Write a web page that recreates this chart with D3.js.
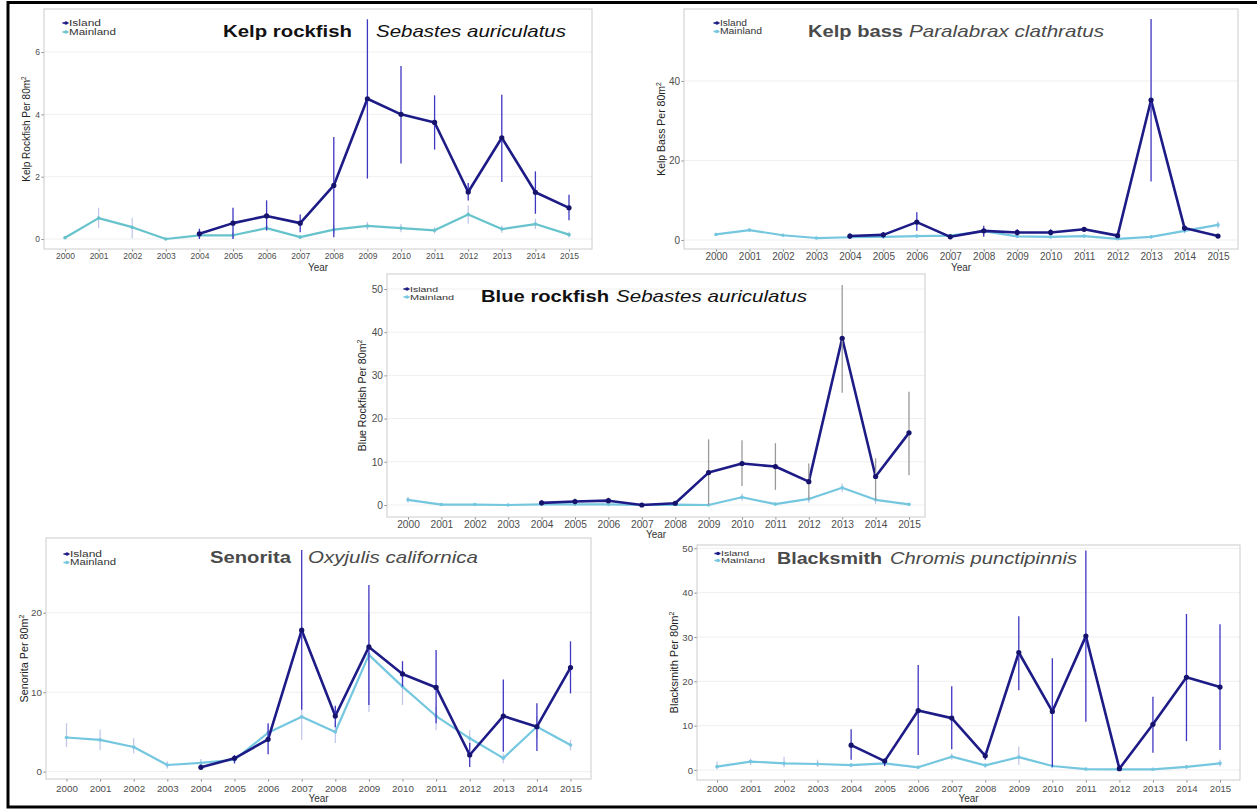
<!DOCTYPE html>
<html>
<head>
<meta charset="utf-8">
<script src="https://cdn.jsdelivr.net/npm/d3@7"></script>
<style>
  body { margin: 0; background: #fff; }
  svg { display: block; font-family: "Liberation Sans", Arial, sans-serif; }
</style>
</head>
<body>
<div id="chart"></div>
<script>
// years on the x axis, island surveys start in 2004
var years = [2000, 2001, 2002, 2003, 2004, 2005, 2006, 2007, 2008, 2009, 2010, 2011, 2012, 2013, 2014, 2015];
var islandYears = [2004, 2005, 2006, 2007, 2008, 2009, 2010, 2011, 2012, 2013, 2014, 2015];

// Kelp rockfish
var kelpRockIsland = [0.17, 0.51, 0.74, 0.51, 1.72, 4.50, 4.00, 3.74, 1.51, 3.25, 1.50, 1.00];
var kelpRockIslandErr = [[0, 0.33], [0, 1.0], [0.28, 1.24], [0.22, 0.79], [0.06, 3.27], [1.94, 7.05], [2.42, 5.55], [2.87, 4.61], [1.24, 1.80], [1.83, 4.63], [0.81, 2.17], [0.60, 1.42]];
var kelpRockMainland = [0.04, 0.67, 0.38, 0.00, 0.12, 0.12, 0.35, 0.06, 0.30, 0.42, 0.35, 0.28, 0.79, 0.32, 0.48, 0.14];
var kelpRockMainlandErr = [[0, 0.08], [0.35, 1.0], [0.02, 0.68], [0, 0.03], [0.02, 0.22], [0.02, 0.22], [0.25, 0.45], [0, 0.12], [0.15, 0.45], [0.3, 0.55], [0.22, 0.48], [0.18, 0.38], [0.49, 1.08], [0.2, 0.44], [0.32, 0.65], [0.05, 0.23]];
var kelpRockTicks = [0, 2, 4, 6];

// Kelp bass
var kelpBassIsland = [1.0, 1.3, 4.5, 0.8, 2.3, 1.9, 1.9, 2.7, 1.1, 35.2, 3.0, 1.0];
var kelpBassIslandErr = [[0.3, 1.7], [0.6, 2.0], [2.3, 7.0], [0.3, 1.3], [0.8, 3.6], [1.1, 2.7], [1.2, 2.7], [2.2, 3.2], [0.7, 1.5], [14.7, 55.6], [2.2, 3.8], [0.5, 1.5]];
var kelpBassMainland = [1.4, 2.5, 1.2, 0.5, 0.7, 0.8, 1.0, 1.1, 2.2, 0.9, 0.8, 1.0, 0.3, 0.8, 2.3, 3.8];
var kelpBassMainlandErr = [[1.0, 1.8], [2.0, 3.0], [0.8, 1.6], [0.2, 0.8], [0.3, 1.1], [0.4, 1.2], [0.6, 1.4], [0.7, 1.5], [1.7, 2.7], [0.5, 1.3], [0.3, 1.3], [0.6, 1.4], [0.1, 0.5], [0.4, 1.2], [1.7, 2.9], [2.9, 4.7]];
var kelpBassTicks = [0, 20, 40];

// Blue rockfish
var blueRockIsland = [0.5, 0.8, 1.0, 0.0, 0.4, 7.5, 9.6, 8.9, 5.4, 38.6, 6.6, 16.7];
var blueRockIslandErr = [[0, 1.2], [0.1, 1.5], [0.3, 1.7], [0, 0.2], [0, 0.9], [0, 15.2], [4.4, 15.0], [3.5, 14.3], [1.2, 9.6], [26.0, 50.9], [1.2, 10.8], [6.9, 26.2]];
var blueRockMainland = [1.2, 0.1, 0.1, 0, 0.15, 0.15, 0.15, 0, 0.1, 0, 1.8, 0.2, 1.4, 4.0, 1.2, 0.15];
var blueRockMainlandErr = [[0.5, 1.9], [0, 0.3], [0, 0.3], [0, 0.1], [0, 0.4], [0, 0.4], [0, 0.4], [0, 0.1], [0, 0.3], [0, 0.1], [1.0, 2.6], [0, 0.5], [0.5, 2.3], [3.0, 5.0], [0.3, 2.1], [0, 0.4]];
var blueRockTicks = [0, 10, 20, 30, 40, 50];

// Senorita
var senoritaIsland = [0.55, 1.68, 4.07, 17.8, 7.0, 15.7, 12.3, 10.6, 2.1, 7.0, 5.66, 13.1];
var senoritaIslandErr = [[0.3, 0.9], [1.05, 2.1], [2.2, 6.1], [7.8, 27.9], [5.6, 8.3], [8.4, 23.5], [10.7, 13.9], [6.1, 15.3], [0.6, 3.6], [2.5, 11.6], [2.6, 8.6], [9.85, 16.4]];
var senoritaMainland = [4.3, 4.0, 3.1, 0.84, 1.1, 1.5, 4.9, 6.9, 5.0, 14.7, 10.7, 7.0, 4.2, 1.7, 5.66, 3.35];
var senoritaMainlandErr = [[3.1, 6.1], [2.7, 5.3], [2.3, 4.2], [0.4, 1.3], [0.6, 1.6], [1.0, 2.0], [4.0, 5.8], [4.0, 10.0], [3.6, 6.2], [7.5, 19.9], [8.4, 12.4], [5.2, 8.2], [3.1, 5.2], [1.05, 2.3], [4.2, 7.0], [2.7, 4.0]];
var senoritaTicks = [0, 10, 20];

// Blacksmith
var blacksmithIsland = [5.6, 2.0, 13.4, 11.7, 3.2, 26.5, 13.2, 30.2, 0.3, 10.3, 20.9, 18.7];
var blacksmithIslandErr = [[2.3, 9.2], [0.9, 2.6], [3.4, 23.7], [4.7, 18.9], [2.3, 4.1], [18.0, 34.7], [0.75, 25.2], [10.9, 49.5], [0, 0.6], [3.9, 16.5], [6.5, 35.2], [4.5, 32.9]];
var blacksmithMainland = [0.75, 1.9, 1.5, 1.35, 1.1, 1.5, 0.6, 3.0, 1.05, 2.9, 0.9, 0.2, 0.15, 0.15, 0.7, 1.5];
var blacksmithMainlandErr = [[0.15, 1.9], [1.1, 2.6], [0.6, 3.0], [0.75, 2.3], [0.6, 1.6], [0.8, 2.2], [0.2, 1.0], [2.3, 3.8], [0.5, 1.6], [1.1, 5.3], [0.4, 1.4], [0, 0.4], [0, 0.3], [0, 0.3], [0.3, 1.1], [0.75, 2.3]];
var blacksmithTicks = [0, 10, 20, 30, 40, 50];

var cIsland = "#1d1b86", cIslandErr = "#3f36c2", cMainland = "#74c7df", cMainlandErr = "#b9bfe8";

var panels = [
    { name: "Kelp rockfish", sci: "Sebastes auriculatus", yTitle: "Kelp Rockfish Per 80m",
      island: kelpRockIsland, islandErr: kelpRockIslandErr, main: kelpRockMainland, mainErr: kelpRockMainlandErr, ticks: kelpRockTicks,
      box: [44, 9, 592, 249], xr: [65, 569], yDom: [-0.32, 7.38], tickFont: 8.5, yTitleFont: 10, yTitleX: 30,
      titleColor: "#111", boldX: [223, 352], itX: [376, 566], titleY: 37, mainColor: "#66c3cc",
      leg: { x: 66, y1: 23, y2: 32, w1: 32, w2: 47, f: 8.5 }, tickY: 256, yearY: 271, errColor: cIslandErr },
    { name: "Kelp bass", sci: "Paralabrax clathratus", yTitle: "Kelp Bass Per 80m",
      island: kelpBassIsland, islandErr: kelpBassIslandErr, main: kelpBassMainland, mainErr: kelpBassMainlandErr, ticks: kelpBassTicks,
      box: [684, 9, 1238, 249], xr: [716, 1218], yDom: [-2.26, 58.1], tickFont: 10, yTitleFont: 10.5, yTitleX: 665,
      titleColor: "#4a4a4a", boldX: [808, 903], itX: [909, 1104], titleY: 37, mainColor: cMainland,
      leg: { x: 717, y1: 23, y2: 31.5, w1: 27, w2: 42, f: 8.5 }, tickY: 256, yearY: 271, errColor: cIslandErr },
    { name: "Blue rockfish", sci: "Sebastes auriculatus", yTitle: "Blue Rockfish Per 80m",
      island: blueRockIsland, islandErr: blueRockIslandErr, main: blueRockMainland, mainErr: blueRockMainlandErr, ticks: blueRockTicks,
      box: [387, 274, 925, 517], xr: [408, 909], yDom: [-2.78, 53.47], tickFont: 10.2, yTitleFont: 10.6, yTitleX: 366,
      titleColor: "#111", boldX: [481, 609], itX: [616, 807], titleY: 302, mainColor: cMainland,
      leg: { x: 407, y1: 289, y2: 297, w1: 28, w2: 44, f: 8 }, tickY: 524, yearY: 538, errColor: "#9a9a9a" },
    { name: "Senorita", sci: "Oxyjulis californica", yTitle: "Senorita Per 80m",
      island: senoritaIsland, islandErr: senoritaIslandErr, main: senoritaMainland, mainErr: senoritaMainlandErr, ticks: senoritaTicks,
      box: [46, 538, 591, 779], xr: [66.5, 570.5], yDom: [-0.92, 29.4], tickFont: 9.8, yTitleFont: 10.8, yTitleX: 28,
      titleColor: "#4a4a4a", boldX: [210, 291], itX: [308, 478], titleY: 563, mainColor: cMainland,
      leg: { x: 67, y1: 554, y2: 562.5, w1: 32, w2: 46, f: 8.5 }, tickY: 788, yearY: 801.5, errColor: cIslandErr },
    { name: "Blacksmith", sci: "Chromis punctipinnis", yTitle: "Blacksmith Per 80m",
      island: blacksmithIsland, islandErr: blacksmithIslandErr, main: blacksmithMainland, mainErr: blacksmithMainlandErr, ticks: blacksmithTicks,
      box: [697, 545, 1240, 780], xr: [717, 1220], yDom: [-2.26, 50.75], tickFont: 9.6, yTitleFont: 11, yTitleX: 678,
      titleColor: "#4a4a4a", boldX: [777, 882], itX: [890, 1077], titleY: 564, mainColor: cMainland,
      leg: { x: 718, y1: 553.5, y2: 560.5, w1: 28, w2: 44, f: 7.2 }, tickY: 788, yearY: 802, errColor: cIslandErr }
];

var svg = d3.select("#chart").append("svg")
    .attr("width", 1257)
    .attr("height", 809);

svg.append("rect").attr("width", 1257).attr("height", 809).attr("fill", "#fff");

function stretch(sel, w) {
    sel.attr("textLength", w).attr("lengthAdjust", "spacingAndGlyphs");
}

panels.forEach(function (p) {
    var g = svg.append("g");
    var x = d3.scaleLinear().domain([2000, 2015]).range(p.xr);
    var y = d3.scaleLinear().domain(p.yDom).range([p.box[3], p.box[1]]);

    // panel background + grid
    g.append("rect")
        .attr("x", p.box[0]).attr("y", p.box[1])
        .attr("width", p.box[2] - p.box[0]).attr("height", p.box[3] - p.box[1])
        .attr("fill", "#fff");
    g.selectAll(".grid").data(p.ticks).enter().append("line")
        .attr("x1", p.box[0]).attr("x2", p.box[2])
        .attr("y1", function (d) { return y(d); }).attr("y2", function (d) { return y(d); })
        .attr("stroke", "#efefef").attr("stroke-width", 1);

    // axes
    var yAxis = g.append("g")
        .attr("transform", "translate(" + p.box[0] + ",0)")
        .call(d3.axisLeft(y).tickValues(p.ticks).tickSize(2.5).tickPadding(1.5).tickFormat(d3.format("d")));
    var xAxis = g.append("g")
        .attr("transform", "translate(0," + p.box[3] + ")")
        .call(d3.axisBottom(x).tickValues(years).tickSize(2.5).tickPadding(2).tickFormat(d3.format("d")));
    [xAxis, yAxis].forEach(function (a) {
        a.select(".domain").remove();
        a.selectAll("line").attr("stroke", "#888");
        a.selectAll("text").attr("fill", "#4d4d4d").style("font-size", p.tickFont + "px");
    });
    xAxis.selectAll("text").attr("y", null).attr("dy", null)
        .attr("dominant-baseline", "central")
        .attr("transform", "translate(0," + (p.tickY - p.box[3]) + ")");

    g.append("rect")
        .attr("x", p.box[0]).attr("y", p.box[1])
        .attr("width", p.box[2] - p.box[0]).attr("height", p.box[3] - p.box[1])
        .attr("fill", "none").attr("stroke", "#cccccc").attr("stroke-width", 1);

    // axis titles
    g.append("text")
        .attr("x", (p.box[0] + p.box[2]) / 2).attr("y", p.yearY)
        .attr("text-anchor", "middle").attr("fill", "#333")
        .style("font-size", "10px").text("Year");

    var yt = g.append("text")
        .attr("transform", "translate(" + p.yTitleX + "," + (p.box[1] + p.box[3]) / 2 + ")rotate(-90)")
        .attr("text-anchor", "middle").attr("fill", "#222")
        .style("font-size", p.yTitleFont + "px");
    yt.append("tspan").text(p.yTitle);
    yt.append("tspan").attr("dy", -p.yTitleFont * 0.4).style("font-size", (p.yTitleFont * 0.65) + "px").text("2");

    // series
    var mainPts = years.map(function (yr, i) { return { yr: yr, v: p.main[i], e: p.mainErr[i] }; });
    var islPts = islandYears.map(function (yr, i) { return { yr: yr, v: p.island[i], e: p.islandErr[i] }; });
    var line = d3.line().x(function (d) { return x(d.yr); }).y(function (d) { return y(d.v); });

    g.append("path").datum(mainPts).attr("d", line)
        .attr("fill", "none").attr("stroke", p.mainColor).attr("stroke-width", 2.2).attr("stroke-linejoin", "round");
    g.selectAll(".merr").data(mainPts).enter().append("line")
        .attr("x1", function (d) { return x(d.yr); }).attr("x2", function (d) { return x(d.yr); })
        .attr("y1", function (d) { return y(d.e[0]); }).attr("y2", function (d) { return y(d.e[1]); })
        .attr("stroke", cMainlandErr).attr("stroke-width", 1.2).attr("opacity", 0.9);
    g.selectAll(".mpt").data(mainPts).enter().append("circle")
        .attr("cx", function (d) { return x(d.yr); }).attr("cy", function (d) { return y(d.v); })
        .attr("r", 1.8).attr("fill", p.mainColor);

    g.append("path").datum(islPts).attr("d", line)
        .attr("fill", "none").attr("stroke", cIsland).attr("stroke-width", 2.6).attr("stroke-linejoin", "round");
    g.selectAll(".ierr").data(islPts).enter().append("line")
        .attr("x1", function (d) { return x(d.yr); }).attr("x2", function (d) { return x(d.yr); })
        .attr("y1", function (d) { return y(d.e[0]); }).attr("y2", function (d) { return y(Math.min(d.e[1], p.yDom[1])); })
        .attr("stroke", p.errColor).attr("stroke-width", 1.3);
    g.selectAll(".ipt").data(islPts).enter().append("circle")
        .attr("cx", function (d) { return x(d.yr); }).attr("cy", function (d) { return y(d.v); })
        .attr("r", 2.6).attr("fill", "#15136b");

    // title
    var tb = g.append("text")
        .attr("x", p.boldX[0]).attr("y", p.titleY)
        .attr("fill", p.titleColor).attr("font-weight", "bold")
        .style("font-size", "17px").text(p.name);
    stretch(tb, p.boldX[1] - p.boldX[0]);
    var ti = g.append("text")
        .attr("x", p.itX[0]).attr("y", p.titleY)
        .attr("fill", p.titleColor).attr("font-style", "italic")
        .style("font-size", "17px").text(p.sci);
    stretch(ti, p.itX[1] - p.itX[0]);

    // legend
    var lg = g.append("g");
    [[p.leg.y1, cIsland, "Island", p.leg.w1], [p.leg.y2, p.mainColor, "Mainland", p.leg.w2]].forEach(function (r) {
        lg.append("line").attr("x1", p.leg.x - 3.5).attr("x2", p.leg.x + 2.5)
            .attr("y1", r[0]).attr("y2", r[0]).attr("stroke", r[1]).attr("stroke-width", 1.6);
        lg.append("circle").attr("cx", p.leg.x).attr("cy", r[0]).attr("r", 1.7).attr("fill", r[1]);
        var t = lg.append("text").attr("x", p.leg.x + 3).attr("y", r[0] + p.leg.f * 0.35)
            .attr("fill", "#333").style("font-size", p.leg.f + "px").text(r[2]);
        stretch(t, r[3]);
    });
});

// outer frame
svg.append("rect")
    .attr("x", 8).attr("y", 2.5).attr("width", 1260).attr("height", 804.5)
    .attr("fill", "none").attr("stroke", "#000").attr("stroke-width", 3);
</script>
</body>
</html>
